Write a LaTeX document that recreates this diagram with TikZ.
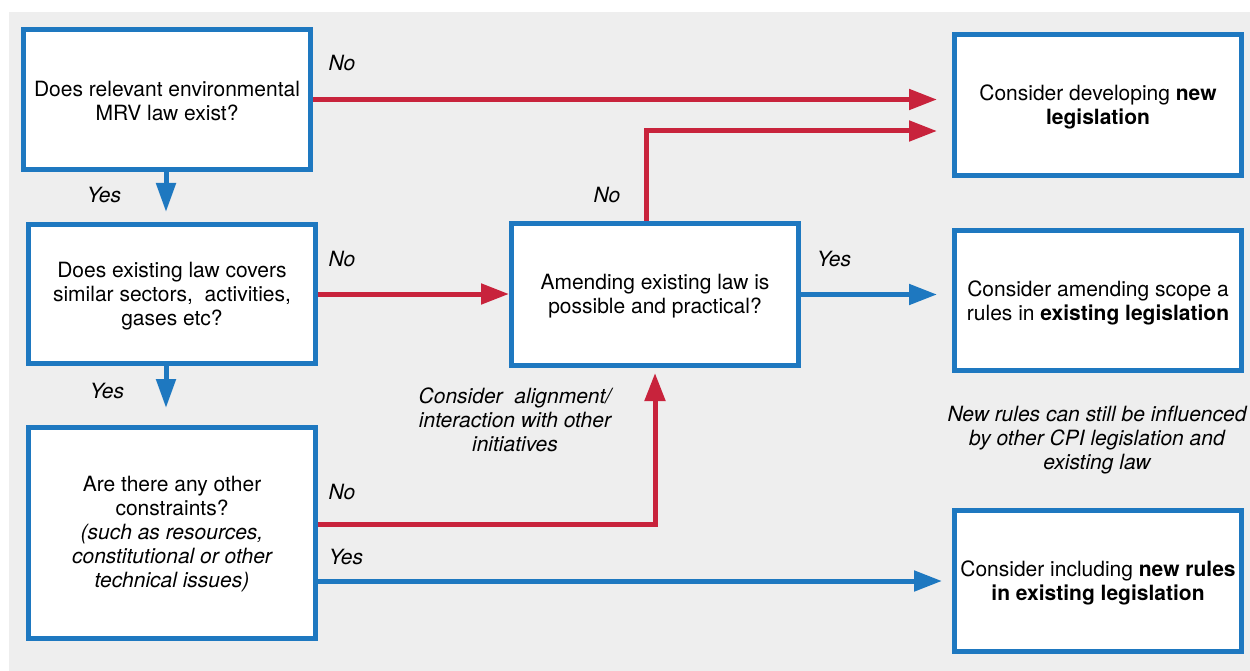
\documentclass[tikz,border=0pt]{standalone}
\usepackage{fontspec}
\setmainfont{TeX Gyre Heros}
\usetikzlibrary{arrows.meta,calc}
\definecolor{flowblue}{RGB}{30,120,192}
\definecolor{flowred}{RGB}{200,35,60}
\definecolor{panel}{RGB}{238,238,238}
\begin{document}
\begin{tikzpicture}[x=1pt,y=-1pt,
  box/.style={draw=flowblue,line width=5pt,fill=white,align=center,
    minimum width=287pt,inner sep=0pt,
    font=\fontsize{21}{24}\selectfont},
  boxtext/.style={align=center,inner sep=0pt,font=\fontsize{21}{24}\selectfont},
  lbl/.style={font=\fontsize{21}{24}\selectfont\itshape,align=center,inner sep=0pt},
  noarrow/.style={draw=flowred,line width=5pt,-{Triangle[length=28pt,width=20pt]}},
  yesarrow/.style={draw=flowblue,line width=5pt,-{Triangle[length=28pt,width=20pt]}}]
\useasboundingbox (0,0) rectangle (1250,671);
\fill[panel] (9,12) rectangle (1250,671);

% question boxes
\node[box,minimum height=140pt] (q1) at (167,99.5) {};
\node[boxtext] (t1) at ([yshift=-2pt]q1.center) {Does relevant environmental\\MRV law exist?};
\node[box,minimum height=139pt] (q2) at (172,294) {};
\node[boxtext] (t2) at ([yshift=-2.5pt]q2.center) {Does existing law covers\\similar sectors,\ \ activities,\\gases etc?};
\node[box,minimum height=211pt] (q3) at (172,533) {};
\node[boxtext] (t3) at ([yshift=-1.5pt]q3.center) {Are there any other\\constraints?\\\itshape(such as resources,\\\itshape constitutional or other\\\itshape technical issues)};
\node[box,minimum height=142pt] (q4) at (655,294.5) {};
\node[boxtext] (t4) at ([yshift=-2pt]q4.center) {Amending existing law is\\possible and practical?};

% outcome boxes
\node[box,minimum height=141pt] (r1) at (1098,105) {};
\node[boxtext] (t5) at ([yshift=-2pt]r1.center) {Consider developing \textbf{new}\\\textbf{legislation}};
\node[box,minimum height=140pt] (r2) at (1098,300.5) {};
\node[boxtext] (t6) at ([yshift=-2pt]r2.center) {Consider amending scope a\\rules in \textbf{existing legislation}};
\node[box,minimum height=141pt] (r3) at (1098,581) {};
\node[boxtext] (t7) at ([yshift=-2pt]r3.center) {Consider including \textbf{new rules}\\\textbf{in existing legislation}};

% connectors
\draw[noarrow,shorten >=15pt] (q1.east) -- (q1.east -| r1.west);
\draw[noarrow,shorten >=15pt] ([xshift=-9pt]q4.north) |- ($(r1.west)+(0,26)$);
\draw[noarrow] (q2.east) -- (q2.east -| q4.west);
\draw[yesarrow,shorten >=15pt] (q4.east) -- (q4.east -| r2.west);
\draw[noarrow,shorten >=5pt] ([yshift=9pt]q3.east) -| (q4.south);
\draw[yesarrow,shorten >=10pt] (q3.east |- r3.west) -- (r3.west);
\draw[yesarrow,shorten >=10pt,-{Triangle[length=29pt,width=19pt]}] ([xshift=-1pt]q1.south) -- ([xshift=-1pt]q1.south |- q2.north);
\draw[yesarrow,shorten >=17pt,-{Triangle[length=29pt,width=19pt]}] ([xshift=-1pt]q1.south |- q2.south) -- ([xshift=-1pt]q1.south |- q3.north);

% branch labels
\node[lbl] (l1) at (342,63) {No};
\node[lbl] (l2) at (104,195) {Yes};
\node[lbl] (l3) at (607,195) {No};
\node[lbl] (l4) at (342,259) {No};
\node[lbl] (l5) at (834,259) {Yes};
\node[lbl] (l6) at (107,391) {Yes};
\node[lbl] (l7) at (342,492) {No};
\node[lbl] (l8) at (346,557) {Yes};

% notes
\node[lbl] (n1) at (515,420) {Consider\ \ alignment/\\interaction with other\\initiatives};
\node[lbl] (n2) at (1097,440) {New rules can still be influenced\\by other CPI legislation and\\existing law};
\end{tikzpicture}
\end{document}
